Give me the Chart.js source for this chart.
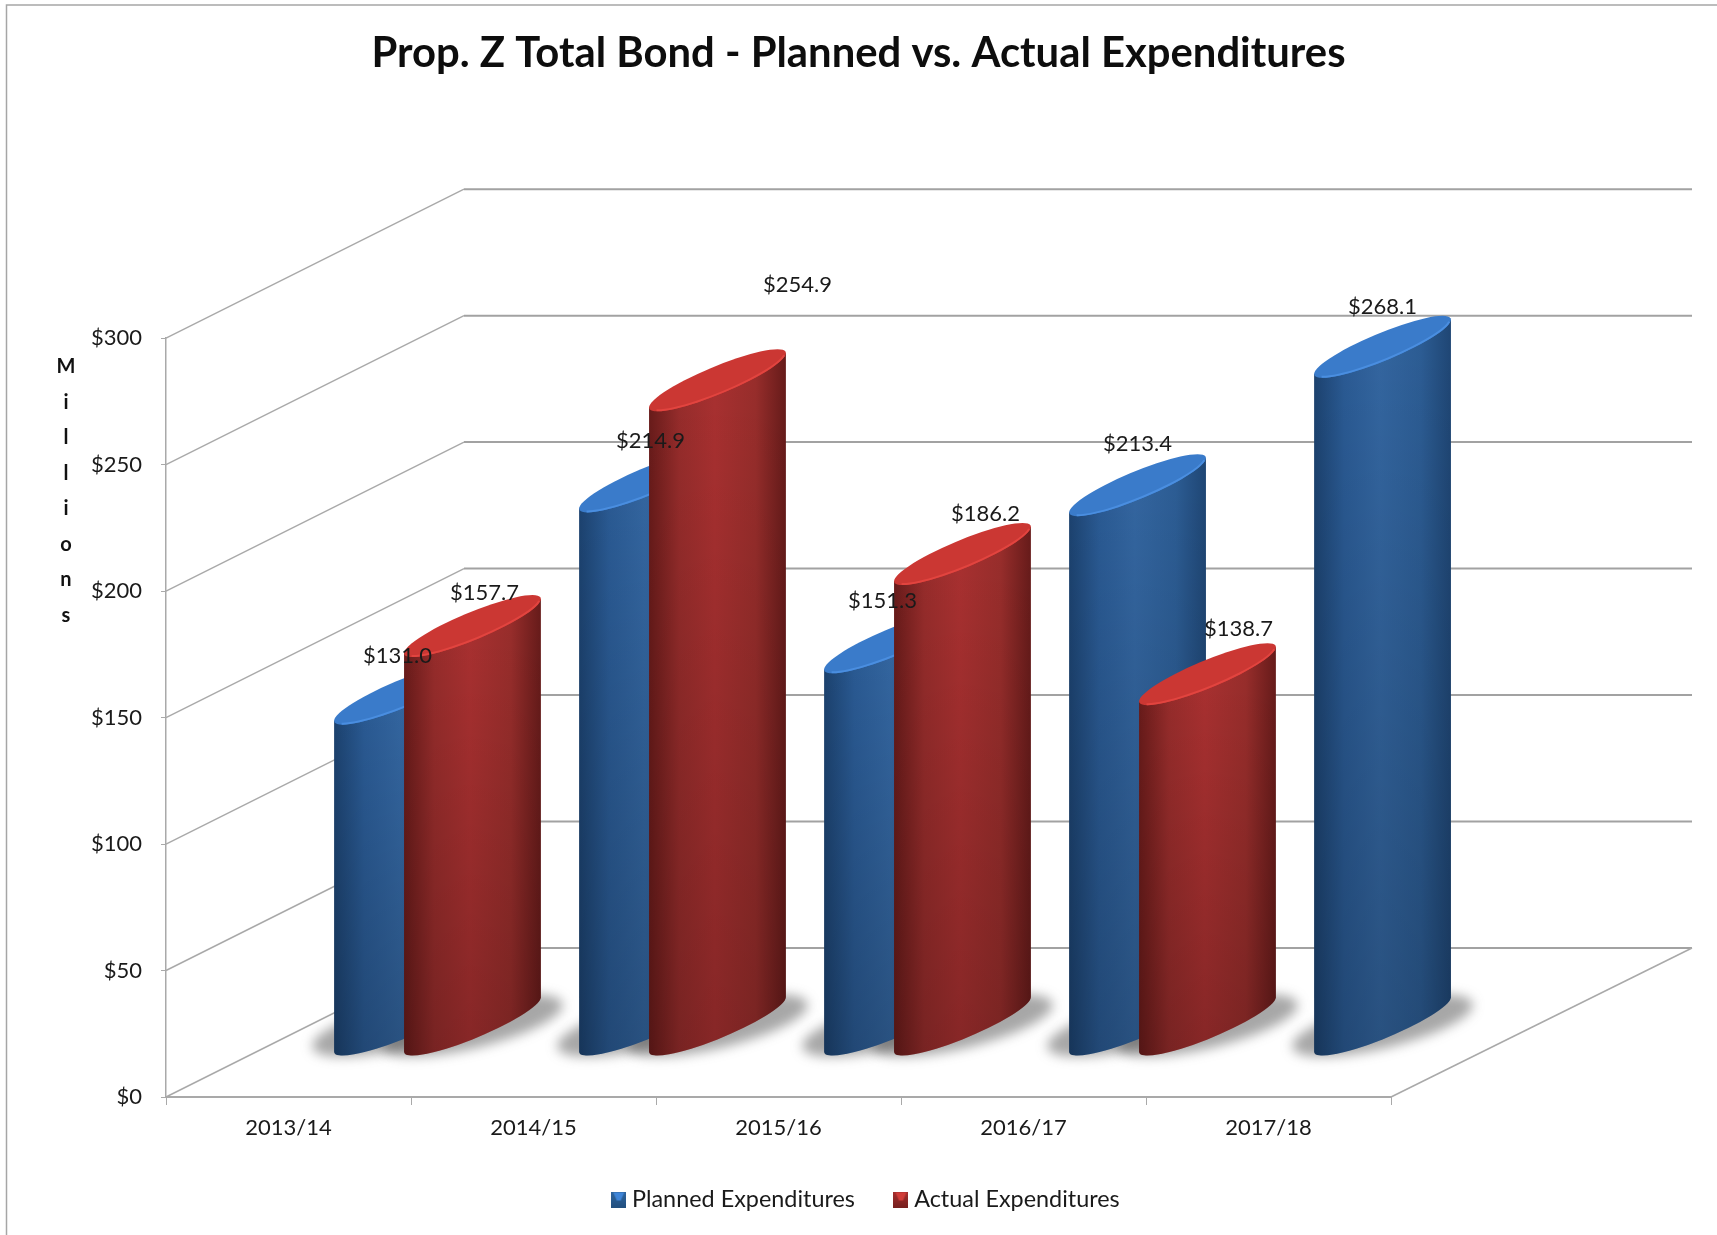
<!DOCTYPE html>
<html>
<head>
<meta charset="utf-8">
<style>
  html, body { margin: 0; padding: 0; background: #fff; }
  #wrap { position: relative; width: 1717px; height: 1235px; overflow: hidden; }
</style>
<script src="https://cdn.jsdelivr.net/npm/chart.js@4"></script>
</head>
<body>
<div id="wrap"><canvas id="chart" width="1717" height="1235"></canvas></div>
<script>
// Chart data
const categories = ['2013/14', '2014/15', '2015/16', '2016/17', '2017/18'];
const plannedValues = [131.0, 214.9, 151.3, 213.4, 268.1];
const actualValues = [157.7, 254.9, 186.2, 138.7, null];
const plannedName = 'Planned Expenditures';
const actualName = 'Actual Expenditures';
const chartTitle = 'Prop. Z Total Bond - Planned vs. Actual Expenditures';
const axisTitle = 'Millions';

// Hand-placed value labels: shift from each cylinder's top centre, [dx, dy] in px
const plannedLabelShift = [[-5, -38], [3, -41], [-10, -41], [0, -41], [0, -40]];
const actualLabelShift = [[12, -33], [80, -95], [23, -40], [31, -45], null];

// Oblique projection of the floor and walls
const DEPTH_X = 298, DEPTH_Y = -149;
const BAR_DEPTH_X = 149, BAR_DEPTH_Y = -72;   // cylinders stand mid-way back
const ELLIPSE_BX = 60, ELLIPSE_BY = -31;      // depth radius of a cylinder

const GRID = '#a9a9a9';
const TEXT = '#1a1a1a';
const FONT = 'Lato, Carlito, sans-serif';
const LEGEND_SIZE = 23.4, LEGEND_GAP = 44.5;

const palettes = [
  { stops: ['#1c426f', '#2a5a93', '#33659f', '#2c5c93', '#1f4674'], top: '#3a7bca', rim: '#4a8ee0' },
  { stops: ['#681b1a', '#962c2b', '#a83030', '#972d2b', '#661b1a'], top: '#cb3733', rim: '#e2443f' }
];

function geometry(el) {
  const ax = el.width / 2;
  const half = Math.hypot(ax, ELLIPSE_BX);
  return {
    ax,
    half,
    drop: -ELLIPSE_BY * ELLIPSE_BX / half,
    cx: el.x + BAR_DEPTH_X,
    topY: el.y + BAR_DEPTH_Y,
    baseY: el.base + BAR_DEPTH_Y,
    tR: Math.atan2(ELLIPSE_BX, ax)
  };
}

function unitArc(ctx, ax, cx, cy, from, to) {
  ctx.save();
  ctx.transform(ax, 0, ELLIPSE_BX, ELLIPSE_BY, cx, cy);
  ctx.arc(0, 0, 1, from, to);
  ctx.restore();
}

function drawCylinder(ctx, el, pal) {
  const g = geometry(el);
  const lx = g.cx - g.half, rx = g.cx + g.half;

  const body = () => {
    ctx.beginPath();
    ctx.moveTo(lx, g.topY + g.drop);
    ctx.lineTo(lx, g.baseY + g.drop);
    unitArc(ctx, g.ax, g.cx, g.baseY, g.tR + Math.PI, g.tR + 2 * Math.PI);
    ctx.lineTo(rx, g.topY - g.drop);
    ctx.closePath();
  };

  const side = ctx.createLinearGradient(lx, 0, rx, 0);
  const offs = [0, 0.22, 0.48, 0.78, 1];
  pal.stops.forEach((c, i) => side.addColorStop(offs[i], c));
  body();
  ctx.fillStyle = side;
  ctx.fill();

  const fade = ctx.createLinearGradient(0, g.topY, 0, g.baseY + g.drop);
  fade.addColorStop(0, 'rgba(0,0,0,0)');
  fade.addColorStop(1, 'rgba(0,0,0,0.2)');
  body();
  ctx.fillStyle = fade;
  ctx.fill();

  // Lid, with a lighter bevel along its front edge
  ctx.beginPath();
  unitArc(ctx, g.ax, g.cx, g.topY, 0, Math.PI * 2);
  ctx.fillStyle = pal.top;
  ctx.fill();
  ctx.save();
  ctx.clip();
  ctx.beginPath();
  unitArc(ctx, g.ax, g.cx, g.topY, g.tR + Math.PI * 1.15, g.tR + Math.PI * 1.95);
  ctx.strokeStyle = pal.rim;
  ctx.lineWidth = 4;
  ctx.stroke();
  ctx.restore();
}

function drawBaseShadow(ctx, el) {
  const g = geometry(el);
  ctx.save();
  ctx.filter = 'blur(6px)';
  ctx.fillStyle = 'rgba(80,80,80,0.5)';
  ctx.beginPath();
  unitArc(ctx, g.ax * 2.05, g.cx, g.baseY + 1, 0, Math.PI * 2);
  ctx.fill();
  ctx.restore();
}

const scene = {
  id: 'scene',
  afterLayout(chart) {
    const t = chart.titleBlock, l = chart.legend;
    t.left = 0; t.right = 1717;
    l.left = 20; l.right = 1717;
    l.top = 1199.5 - LEGEND_GAP - LEGEND_SIZE / 2; l.bottom = l.top + l.height;
  },
  beforeDatasetsDraw(chart) {
    const { ctx, scales: { x, y } } = chart;
    const L = x.left, R = x.right;
    const pos = v => y.getPixelForValue(v);

    // Chart frame
    ctx.save();
    ctx.strokeStyle = '#a6a6a6';
    ctx.lineWidth = 1.5;
    ctx.beginPath();
    ctx.moveTo(6.5, 1235); ctx.lineTo(6.5, 5); ctx.lineTo(1717, 5);
    ctx.stroke();

    // Left wall, back wall and floor
    y.ticks.forEach(t => {
      const py = pos(t.value);
      ctx.strokeStyle = GRID;
      ctx.lineWidth = 1.5;
      ctx.beginPath();
      ctx.moveTo(L, py);
      ctx.lineTo(L + DEPTH_X, py + DEPTH_Y);
      ctx.stroke();
      ctx.strokeStyle = '#a2a2a2';
      ctx.lineWidth = 2;
      ctx.beginPath();
      ctx.moveTo(L + DEPTH_X, py + DEPTH_Y);
      ctx.lineTo(R + DEPTH_X + 3, py + DEPTH_Y);
      ctx.stroke();
    });
    const floor = pos(0);
    ctx.strokeStyle = GRID;
    ctx.lineWidth = 1.5;
    ctx.beginPath();
    ctx.moveTo(R + DEPTH_X + 3, floor + DEPTH_Y);
    ctx.lineTo(R, floor);
    ctx.stroke();
    ctx.restore();

    chart.data.datasets.forEach((ds, i) => {
      chart.getDatasetMeta(i).data.forEach((el, j) => {
        if (ds.data[j] !== null) drawBaseShadow(ctx, el);
      });
    });
  },
  // Bars are painted as cylinders below, planned series first so actual sits in front
  beforeDatasetDraw() {
    return false;
  },
  afterDatasetsDraw(chart) {
    const { ctx } = chart;
    chart.data.datasets.forEach((ds, i) => {
      chart.getDatasetMeta(i).data.forEach((el, j) => {
        if (ds.data[j] !== null) drawCylinder(ctx, el, palettes[i]);
      });
    });

    ctx.save();
    ctx.fillStyle = TEXT;
    ctx.font = '22px ' + FONT;
    ctx.textAlign = 'center';
    ctx.textBaseline = 'middle';
    chart.data.datasets.forEach((ds, i) => {
      const shift = i === 0 ? plannedLabelShift : actualLabelShift;
      chart.getDatasetMeta(i).data.forEach((el, j) => {
        if (ds.data[j] === null) return;
        const g = geometry(el);
        ctx.fillText('$' + ds.data[j].toFixed(1), g.cx + shift[j][0], g.topY + shift[j][1]);
      });
    });

    // Axis title, stacked one letter per line
    ctx.font = 'bold 20px ' + FONT;
    ctx.fillStyle = '#111';
    [...axisTitle].forEach((ch, i) => ctx.fillText(ch, 66, 367 + i * 35.5));
    ctx.restore();
  }
};

function legendSwatch(light, mid, low) {
  const c = document.createElement('canvas');
  c.width = 15; c.height = 16;
  const k = c.getContext('2d');
  const g = k.createLinearGradient(0, 0, 0, 16);
  g.addColorStop(0, mid);
  g.addColorStop(1, low);
  k.fillStyle = g;
  k.fillRect(0, 0, 15, 16);
  k.fillStyle = light;
  k.beginPath();
  k.moveTo(2, 1); k.lineTo(13, 1); k.lineTo(9.5, 9); k.lineTo(5.5, 9);
  k.closePath();
  k.fill();
  return c;
}
const swatches = [
  legendSwatch('#3f85d8', '#2f669f', '#22507f'),
  legendSwatch('#d03c38', '#a62f2f', '#771f1e')
];

new Chart(document.getElementById('chart'), {
  type: 'bar',
  data: {
    labels: categories,
    datasets: [
      { label: plannedName, data: plannedValues, backgroundColor: '#33659f' },
      { label: actualName, data: actualValues, backgroundColor: '#a82f2f' }
    ]
  },
  plugins: [scene],
  options: {
    responsive: false,
    animation: false,
    events: [],
    categoryPercentage: 0.571,
    barPercentage: 0.94,
    layout: { padding: { left: 0, right: 326, top: 0, bottom: 14.1 } },
    plugins: {
      title: {
        display: true,
        text: chartTitle,
        color: '#0d0d0d',
        font: { family: FONT, size: 41.8, weight: 'bold', lineHeight: 1.2 },
        padding: { top: 28, bottom: 260 }
      },
      legend: {
        display: true,
        position: 'bottom',
        labels: {
          font: { family: FONT, size: LEGEND_SIZE },
          color: TEXT,
          padding: LEGEND_GAP,
          boxWidth: 3,
          usePointStyle: true,
          generateLabels: chart => chart.data.datasets.map((ds, i) => ({
            text: ds.label,
            datasetIndex: i,
            fontColor: TEXT,
            fillStyle: ds.backgroundColor,
            pointStyle: swatches[i],
            lineWidth: 0
          }))
        }
      },
      tooltip: { enabled: false }
    },
    scales: {
      x: {
        afterFit: s => { s.height = 46; },
        border: { display: true, color: GRID, width: 2 },
        grid: { display: true, drawOnChartArea: false, drawTicks: true, tickLength: 8, color: GRID },
        ticks: { color: TEXT, padding: 10, font: { family: FONT, size: 22 }, maxRotation: 0 }
      },
      y: {
        min: 0,
        max: 300,
        afterFit: s => { s.width = 166; },
        border: { display: true, color: GRID, width: 1.5 },
        grid: { display: true, drawOnChartArea: false, drawTicks: true, tickLength: 5, color: GRID },
        ticks: { stepSize: 50, color: TEXT, padding: 19, font: { family: FONT, size: 22 }, callback: v => '$' + v }
      }
    }
  }
});
</script>
</body>
</html>
